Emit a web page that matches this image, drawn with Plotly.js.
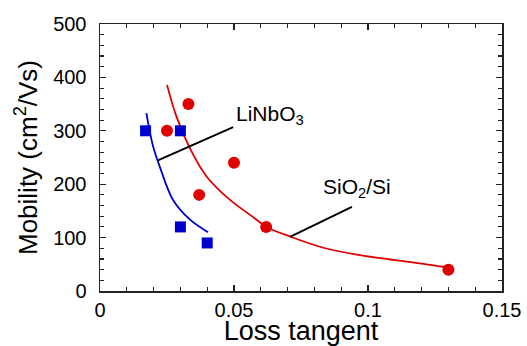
<!DOCTYPE html>
<html>
<head>
<meta charset="utf-8">
<script src="https://cdn.plot.ly/plotly-3.0.1.min.js"></script>
<style>html,body{margin:0;padding:0;background:#fff;}#chart{width:527px;height:346px;}</style>
</head>
<body>
<div id="chart"></div>
<script>
// LiNbO3 measured points (blue squares)
const linbo3X = [0.017, 0.030, 0.030, 0.040];
const linbo3Y = [300, 300, 120, 90];
// SiO2/Si measured points (red circles)
const sio2X = [0.025, 0.033, 0.037, 0.050, 0.062, 0.130];
const sio2Y = [300, 350, 180, 240, 120, 40];
// Fitted curves
const linbo3FitX = [0.0173, 0.0198, 0.0223, 0.0272, 0.0335, 0.0403];
const linbo3FitY = [333, 271, 233, 171, 134, 110];
const sio2FitX = [0.0250, 0.0285, 0.0332, 0.0397, 0.0484, 0.0559, 0.0622, 0.0709, 0.0833, 0.0958, 0.1083, 0.1207, 0.1295];
const sio2FitY = [386, 327, 271, 215, 171, 143, 120, 102, 81, 68, 59, 51, 44.5];
// Leader lines
const leaderLiX = [0.0216, 0.0497];
const leaderLiY = [244.5, 307];
const leaderSiX = [0.0709, 0.0940];
const leaderSiY = [101.3, 157.4];
const labels = ["LiNbO<sub>3</sub>", "SiO<sub>2</sub>/Si"];
const xTitle = "Loss tangent";
const yTitle = "Mobility (cm<sup>2</sup>/Vs)";

const RED = "#e00000", BLUE = "#0000cc";
const FONT = "Arial, 'Liberation Sans', sans-serif";

const traces = [
  {x: linbo3FitX, y: linbo3FitY, mode: "lines", line: {color: BLUE, width: 1.8, shape: "spline"}, hoverinfo: "skip"},
  {x: sio2FitX, y: sio2FitY, mode: "lines", line: {color: RED, width: 1.8, shape: "spline"}, hoverinfo: "skip"},
  {x: leaderLiX, y: leaderLiY, mode: "lines", line: {color: "#000", width: 2}},
  {x: leaderSiX, y: leaderSiY, mode: "lines", line: {color: "#000", width: 2}},
  {x: linbo3X, y: linbo3Y, mode: "markers", marker: {symbol: "square", size: 11, color: BLUE}},
  {x: sio2X, y: sio2Y, mode: "markers", marker: {symbol: "circle", size: 12, color: RED}}
];

const axisCommon = {
  showgrid: false, zeroline: false, showline: true, linecolor: "#222", linewidth: 1.5,
  mirror: "ticks", ticks: "inside", ticklen: 6, tickwidth: 1.3, tickcolor: "#222",
  tickfont: {family: FONT, size: 20, color: "#000"}
};

const layout = {
  width: 527, height: 346,
  margin: {l: 100, r: 25, t: 24, b: 55},
  paper_bgcolor: "#fff", plot_bgcolor: "#fff",
  showlegend: false,
  xaxis: Object.assign({}, axisCommon, {
    range: [0, 0.15], dtick: 0.05, tick0: 0,
    minor: {dtick: 0.01, ticks: "inside", ticklen: 4, tickwidth: 1.1, tickcolor: "#222"},
    title: {text: xTitle, font: {family: FONT, size: 27, color: "#000"}, standoff: 3}
  }),
  yaxis: Object.assign({}, axisCommon, {
    range: [0, 500], dtick: 100, tick0: 0,
    minor: {dtick: 20, ticks: "inside", ticklen: 4, tickwidth: 1.1, tickcolor: "#222"},
    ticklabelstandoff: 8,
    title: {text: yTitle, font: {family: FONT, size: 26, color: "#000"}, standoff: 8}
  }),
  annotations: [
    {x: 0.0500, y: 330, xref: "x", yref: "y", text: labels[0], showarrow: false,
     xanchor: "left", yanchor: "middle", font: {family: FONT, size: 21, color: "#000"}},
    {x: 0.0825, y: 192, xref: "x", yref: "y", text: labels[1], showarrow: false,
     xanchor: "left", yanchor: "middle", font: {family: FONT, size: 21, color: "#000"}}
  ]
};

Plotly.newPlot("chart", traces, layout, {staticPlot: true, displayModeBar: false});
</script>
</body>
</html>
